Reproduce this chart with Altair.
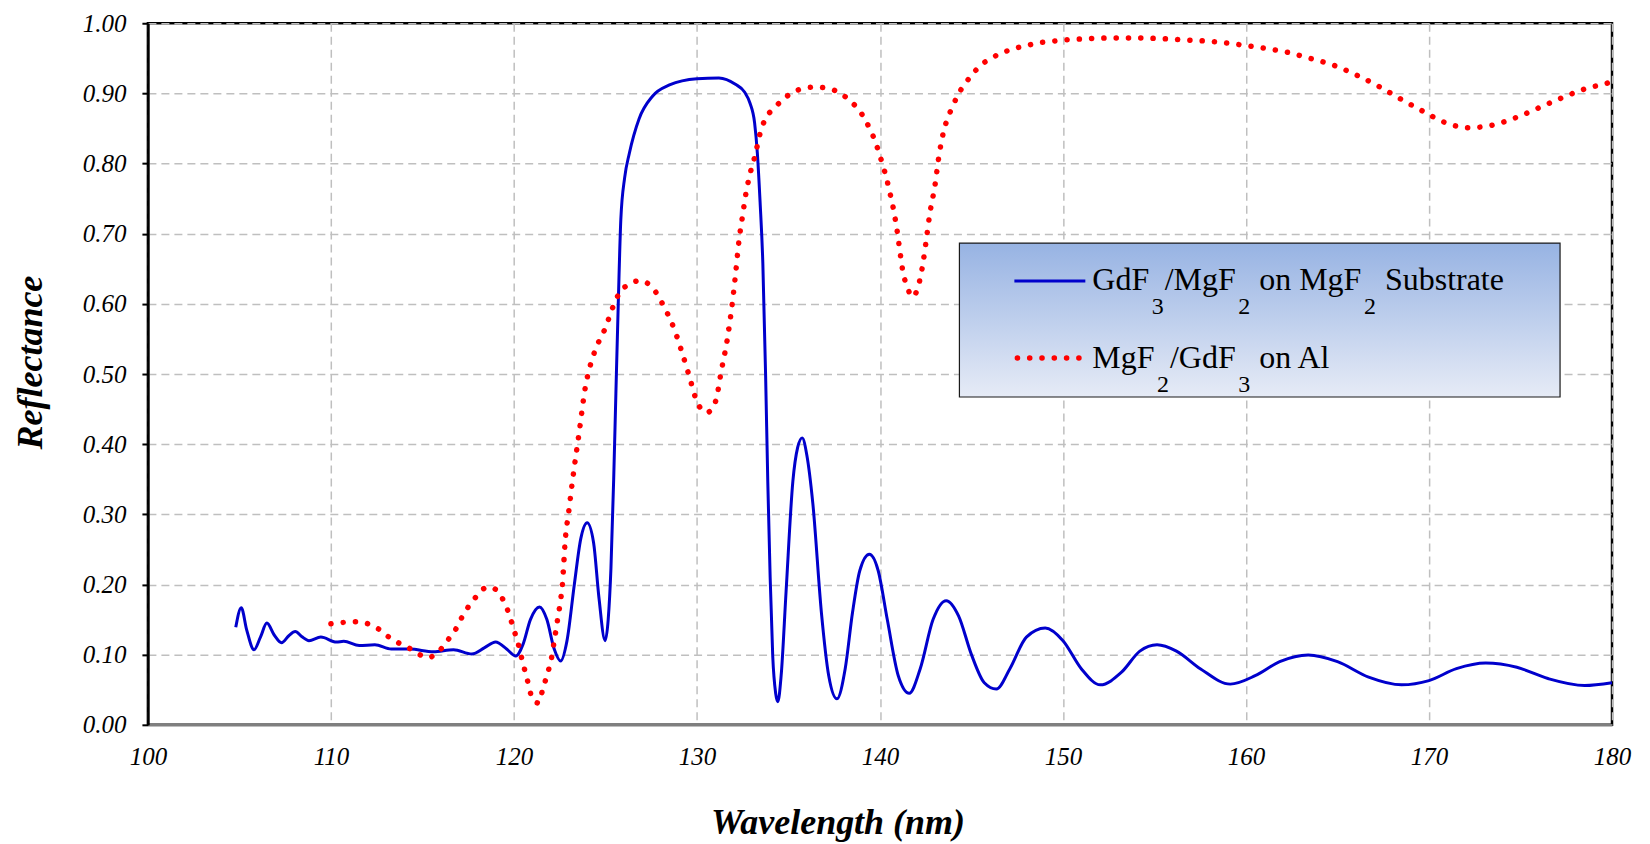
import altair as alt
import pandas as pd

# ---- data ----
series_names = ["GdF3/MgF2 on MgF2 Substrate", "MgF2/GdF3 on Al"]

blue_x = [104.8, 105.1, 105.4, 105.8, 106.15, 106.5, 106.9, 107.3, 107.7, 108.05, 108.4, 108.8,
          109.45, 110.3, 110.7, 111.55, 112.4, 113.3, 114.3, 115.6, 116.7, 117.7, 118.4, 119.0,
          119.6, 120.1, 120.5, 120.9, 121.4, 121.8, 122.2, 122.55, 122.9, 123.3, 123.65, 124.0,
          124.35, 124.65, 124.98, 125.15, 125.3, 125.45, 125.57, 125.7, 125.84, 126.05, 126.3,
          126.84, 127.57, 128.5, 130.0, 131.2, 132.1, 132.6, 132.9, 133.15, 133.3, 133.45, 133.6,
          133.75, 133.87, 134.0, 134.14, 134.3, 134.42, 134.6, 134.87, 135.24, 135.5, 135.75,
          136.0, 136.33, 136.8, 137.2, 137.65, 138.1, 138.5, 138.9, 139.42, 139.9, 140.4, 141.0,
          141.6, 142.2, 142.9, 143.62, 144.3, 145.0, 145.7, 146.36, 147.1, 148.0, 149.03, 150.0,
          151.0, 152.04, 153.2, 154.2, 155.14, 156.2, 157.5, 159.14, 160.5, 161.84, 163.4, 165.0,
          166.7, 168.5, 170.0, 171.5, 173.1, 174.8, 176.5, 178.5, 180.0]
blue_y = [0.139, 0.167, 0.135, 0.107, 0.125, 0.145, 0.128, 0.117, 0.127, 0.133, 0.126, 0.120,
          0.125, 0.118, 0.119, 0.113, 0.114, 0.108, 0.108, 0.104, 0.107, 0.101, 0.110, 0.118,
          0.108, 0.098, 0.115, 0.150, 0.168, 0.150, 0.108, 0.091, 0.120, 0.200, 0.265, 0.288,
          0.260, 0.180, 0.120, 0.150, 0.223, 0.350, 0.472, 0.600, 0.720, 0.780, 0.814,
          0.864, 0.896, 0.912, 0.921, 0.922, 0.913, 0.902, 0.886, 0.858, 0.815, 0.745, 0.658,
          0.500, 0.347, 0.210, 0.098, 0.045, 0.033, 0.070, 0.190, 0.347, 0.395, 0.409,
          0.385, 0.316, 0.160, 0.070, 0.037, 0.080, 0.160, 0.220, 0.243, 0.220, 0.150, 0.070,
          0.045, 0.080, 0.150, 0.177, 0.155, 0.100, 0.060, 0.051, 0.080, 0.125, 0.138, 0.120,
          0.080, 0.057, 0.075, 0.105, 0.114, 0.105, 0.080, 0.058, 0.070, 0.090, 0.0995, 0.090,
          0.068, 0.057, 0.063, 0.080, 0.088, 0.082, 0.066, 0.056, 0.060]

red_x = [110.0, 110.67, 111.36, 112.03, 112.64, 113.17, 113.75, 114.36, 114.93, 115.25, 115.58,
         116.08, 116.48, 116.86, 117.17, 117.53, 117.95, 118.43, 118.75, 119.04, 119.43, 119.69,
         119.9, 120.1, 120.29, 120.44, 120.61, 120.78, 120.94, 121.15, 121.34, 121.55, 121.74,
         121.93, 122.08, 122.18, 122.29, 122.39, 122.5, 122.66, 122.8, 123.0, 123.2, 123.56,
         123.9, 124.2, 124.47, 125.0, 125.4, 125.75, 126.3, 126.88, 127.5, 128.2, 128.76, 129.18,
         129.58, 129.95, 130.3, 130.55, 130.8, 131.08, 131.3, 131.68, 131.95, 132.1, 132.3, 132.5,
         132.68, 132.87, 133.2, 133.4, 133.74, 134.14, 134.65, 135.2, 135.8, 136.48, 137.15,
         137.8, 138.34, 138.8, 139.16, 139.47, 139.75, 139.95, 140.16, 140.35, 140.5, 140.7,
         140.95, 141.08, 141.26, 141.48, 141.77, 142.08, 142.35, 142.54, 142.72, 143.0, 143.23,
         143.49, 143.72, 143.98, 144.26, 144.63, 145.04, 145.5, 146.07, 146.7, 147.34, 147.98,
         148.66, 149.3, 150.0, 151.34, 152.7, 154.08, 155.43, 156.8, 158.14, 159.48, 160.85,
         162.2, 163.49, 164.8, 166.05, 167.26, 168.45, 169.64, 170.83, 172.14, 172.8, 173.5,
         174.8, 176.05, 177.29, 178.58, 179.9, 180.0]
red_y = [0.144, 0.146, 0.147, 0.144, 0.136, 0.125, 0.116, 0.108, 0.099, 0.096, 0.098,
         0.110, 0.124, 0.138, 0.154, 0.169, 0.183, 0.195, 0.196, 0.192, 0.177, 0.161,
         0.144, 0.127, 0.110, 0.093, 0.076, 0.059, 0.042, 0.033, 0.031, 0.048, 0.065,
         0.082, 0.099, 0.116, 0.134, 0.151, 0.169, 0.204, 0.262, 0.305, 0.348, 0.416,
         0.481, 0.515, 0.536, 0.566, 0.595, 0.615, 0.628, 0.633, 0.625, 0.596, 0.564, 0.531,
         0.497, 0.464, 0.448, 0.445, 0.450, 0.467, 0.500, 0.553, 0.605, 0.640, 0.691, 0.727,
         0.758, 0.782, 0.814, 0.838, 0.864, 0.877, 0.890, 0.901, 0.907, 0.909, 0.907,
         0.901, 0.890, 0.878, 0.864, 0.848, 0.831, 0.815, 0.797, 0.780, 0.763, 0.740,
         0.702, 0.677, 0.645, 0.625, 0.610, 0.624, 0.658, 0.693, 0.728, 0.768, 0.812,
         0.847, 0.866, 0.882, 0.898, 0.913, 0.927, 0.940, 0.950, 0.958, 0.964, 0.968,
         0.972, 0.974, 0.976, 0.978, 0.979, 0.979, 0.978, 0.976, 0.974, 0.970, 0.965,
         0.959, 0.950, 0.940, 0.926, 0.910, 0.892, 0.875, 0.859, 0.851, 0.852, 0.855,
         0.866, 0.880, 0.894, 0.907, 0.916, 0.917]

x_ticks = [100, 110, 120, 130, 140, 150, 160, 170, 180]
y_ticks = [0.0, 0.1, 0.2, 0.3, 0.4, 0.5, 0.6, 0.7, 0.8, 0.9, 1.0]

BLUE = "#0000CC"
RED = "#FF0000"
FONT = "Liberation Serif"
DOT = [0.1, 12.2]

blue_df = pd.DataFrame({"wl": blue_x, "R": blue_y})
red_df = pd.DataFrame({"wl": red_x, "R": red_y})

PAD_TOP = 15
PLOT_H = 702
TOP_SHIFT = 10 - PAD_TOP  # keep legend and y-title at their page positions

x_enc = alt.X("wl:Q", scale=alt.Scale(domain=[100, 180], nice=False, zero=False),
              axis=alt.Axis(values=x_ticks, format="d", title="Wavelength (nm)",
                            ticks=False, tickSize=0, labelPadding=32, labelBaseline="middle",
                            labelFlush=False,
                            domainColor="#7F7F7F", domainWidth=2.5,
                            titleX=690, titleY=109, titleBaseline="alphabetic", titleAlign="center"))
y_enc = alt.Y("R:Q", scale=alt.Scale(domain=[0, 1], nice=False),
              axis=alt.Axis(values=y_ticks, format=".2f", title="Reflectance",
                            tickSize=6, tickWidth=2, tickColor="black", labelPadding=16,
                            labelFlush=False,
                            domainColor="black", domainWidth=2.5,
                            titleX=-117, titleY=344 + TOP_SHIFT, titleAngle=270, titleBaseline="middle",
                            titleAlign="center"))

blue = alt.Chart(blue_df).mark_line(color=BLUE, strokeWidth=3, interpolate="monotone").encode(x=x_enc, y=y_enc)
red = alt.Chart(red_df).mark_line(color=RED, strokeWidth=5.5, strokeDash=DOT, strokeCap="round",
                                  interpolate="monotone").encode(x=x_enc, y=y_enc)

# ---- hand-drawn legend (gradient box, symbols, labels with lowered subscripts) ----
one = pd.DataFrame({"k": [0]})
grad = alt.LinearGradient(gradient="linear", x1=0, y1=0, x2=0, y2=1,
                          stops=[alt.GradientStop(color="#97B3E3", offset=0),
                                 alt.GradientStop(color="#E6EBF6", offset=1)])
layers = [blue, red]
layers.append(alt.Chart(one).mark_rect(fill=grad, stroke="#1a1a1a", strokeWidth=1.2).encode(
    x=alt.value(812), x2=alt.value(1413), y=alt.value(225 + TOP_SHIFT), y2=alt.value(379 + TOP_SHIFT)))
layers.append(alt.Chart(one).mark_rule(color=BLUE, strokeWidth=3).encode(
    x=alt.value(867), x2=alt.value(938), y=alt.value(263 + TOP_SHIFT)))
layers.append(alt.Chart(one).mark_rule(color=RED, strokeWidth=5.5, strokeDash=DOT, strokeCap="round").encode(
    x=alt.value(870), x2=alt.value(935), y=alt.value(340 + TOP_SHIFT)))

# Times / Liberation Serif advance widths (per 1000 em)
ADV = {"G": 722, "d": 500, "F": 556, "/": 278, "M": 889, "g": 500, " ": 250, "o": 500, "n": 500,
       "S": 556, "u": 500, "b": 500, "s": 389, "t": 278, "r": 333, "a": 444, "e": 444, "A": 722,
       "l": 278}


def text_width(s, size):
    return sum(ADV.get(c, 500) for c in s) * size / 1000.0


MAIN, SUB = 32, 24
row_base = [272 + TOP_SHIFT, 350 + TOP_SHIFT]
for name, base in zip(series_names, row_base):
    pieces = []
    buf = ""
    for ch in name:
        if ch.isdigit():
            if buf:
                pieces.append((buf, False))
                buf = ""
            pieces.append((ch, True))
        else:
            buf += ch
    if buf:
        pieces.append((buf, False))
    cur = 945.0
    for txt, is_sub in pieces:
        if is_sub:
            cur += 2.5
            size, y = SUB, base + 24
            shown = txt
        else:
            lead = len(txt) - len(txt.lstrip(" "))
            cur += text_width(" " * lead, MAIN)
            shown = txt.strip(" ")
            size, y = MAIN, base
        layers.append(alt.Chart(one).mark_text(align="left", baseline="alphabetic", font=FONT,
                                               fontSize=size, color="black").encode(
            x=alt.value(round(cur, 1)), y=alt.value(y), text=alt.value(shown)))
        cur += text_width(shown, size) + (1 if is_sub else 0)

chart = alt.layer(*layers).properties(
    width=1465, height=PLOT_H,
    autosize=alt.AutoSizeParams(type="none"),
    padding={"left": 140, "top": PAD_TOP, "right": 30, "bottom": 118},
    background="white",
).configure_view(stroke="black", strokeWidth=2.5).configure_axis(
    labelFont=FONT, labelFontSize=25, labelFontStyle="italic", labelColor="black",
    titleFont=FONT, titleFontSize=36, titleFontStyle="italic", titleFontWeight="bold", titleColor="black",
    grid=True, gridColor="#BFBFBF", gridDash=[8, 5], gridWidth=1.5,
)

chart.save("out.html", embed_options={"renderer": "svg", "actions": False})
